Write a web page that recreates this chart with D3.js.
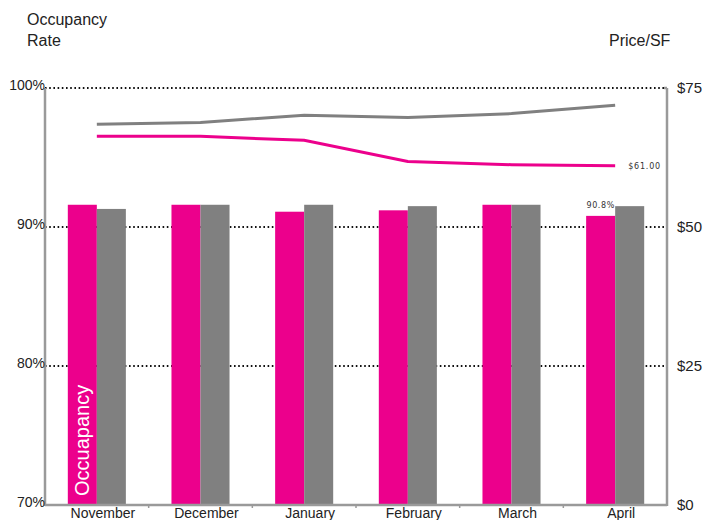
<!DOCTYPE html>
<meta charset="utf-8">
<script src="https://d3js.org/d3.v7.min.js"></script>
<style>
  body { margin: 0; background: #fff; }
  text { font-family: "Liberation Sans", Arial, sans-serif; fill: #222; }
</style>
<body>
<script>
// chart data
var months = ["November", "December", "January", "February", "March", "April"];
var occupancy = [91.6, 91.6, 91.1, 91.2, 91.6, 90.8];        // pink bars
var occupancyComp = [91.3, 91.6, 91.6, 91.5, 91.6, 91.5];    // grey bars
var priceComp = [68.5, 68.8, 70.1, 69.7, 70.4, 71.9];        // grey line
var price = [66.3, 66.3, 65.6, 61.8, 61.2, 61.0];            // pink line
var rateTicks = [70, 80, 90, 100];
var priceTicks = [0, 25, 50, 75];

var pink = "#ec008c", grey = "#808080", axisGrey = "#9a9a9a";

var W = 706, H = 520;
var plotLeft = 45, plotRight = 667, plotTop = 88, plotBottom = 505;

var svg = d3.select("body").append("svg")
  .attr("width", W).attr("height", H);

var x = d3.scaleBand().domain(months).range([plotLeft, plotRight])
  .paddingInner(0.44).paddingOuter(0.22);
var yRate = d3.scaleLinear().domain([70, 100]).range([plotBottom, plotTop]);
var yPrice = d3.scaleLinear().domain([0, 75]).range([plotBottom, plotTop]);
var half = x.bandwidth() / 2;

// dotted gridlines
svg.append("g").selectAll("line")
  .data(rateTicks.filter(function(d) { return d > 70; }))
  .enter().append("line")
    .attr("x1", plotLeft).attr("x2", plotRight)
    .attr("y1", function(d) { return yRate(d); })
    .attr("y2", function(d) { return yRate(d); })
    .style("stroke", "#111")
    .style("stroke-width", 2)
    .style("stroke-dasharray", "1.6,2.6");

// bars
svg.append("g").selectAll("rect")
  .data(occupancy)
  .enter().append("rect")
    .attr("x", function(d, i) { return x(months[i]); })
    .attr("y", function(d) { return yRate(d); })
    .attr("width", half)
    .attr("height", function(d) { return plotBottom - yRate(d); })
    .style("fill", pink);

svg.append("g").selectAll("rect")
  .data(occupancyComp)
  .enter().append("rect")
    .attr("x", function(d, i) { return x(months[i]) + half; })
    .attr("y", function(d) { return yRate(d); })
    .attr("width", half)
    .attr("height", function(d) { return plotBottom - yRate(d); })
    .style("fill", grey);

// lines
var line = d3.line()
  .x(function(d, i) { return x(months[i]) + half; })
  .y(function(d) { return yPrice(d); });

svg.append("path").datum(priceComp)
  .attr("d", line)
  .style("fill", "none").style("stroke", grey).style("stroke-width", 3);

svg.append("path").datum(price)
  .attr("d", line)
  .style("fill", "none").style("stroke", pink).style("stroke-width", 3);

// axis lines
svg.append("line").attr("x1", plotLeft).attr("x2", plotLeft).attr("y1", plotTop).attr("y2", plotBottom + 1)
  .style("stroke", axisGrey).style("stroke-width", 2.5);
svg.append("line").attr("x1", plotRight).attr("x2", plotRight).attr("y1", plotTop).attr("y2", plotBottom + 1)
  .style("stroke", axisGrey).style("stroke-width", 2.5);
svg.append("line").attr("x1", plotLeft).attr("x2", plotRight).attr("y1", plotBottom).attr("y2", plotBottom)
  .style("stroke", axisGrey).style("stroke-width", 2.5);

// small ticks between categories
svg.append("g").selectAll("line")
  .data(months.slice(1))
  .enter().append("line")
    .attr("x1", function(d) { return x(d) - x.step() * 0.22; })
    .attr("x2", function(d) { return x(d) - x.step() * 0.22; })
    .attr("y1", plotBottom).attr("y2", plotBottom + 3)
    .style("stroke", axisGrey).style("stroke-width", 1.5);

// left tick labels
svg.append("g").selectAll("text")
  .data(rateTicks)
  .enter().append("text")
    .attr("x", plotLeft)
    .attr("y", function(d) { return yRate(d) + 2; })
    .attr("text-anchor", "end")
    .style("font-size", "14px")
    .text(function(d) { return d + "%"; });

// right tick labels
svg.append("g").selectAll("text")
  .data(priceTicks)
  .enter().append("text")
    .attr("x", plotRight + 10)
    .attr("y", function(d) { return yPrice(d) + 5; })
    .style("font-size", "15px")
    .text(function(d) { return "$" + d; });

svg.append("line").attr("x1", plotRight - 3).attr("x2", plotRight).attr("y1", plotTop).attr("y2", plotTop)
  .style("stroke", axisGrey).style("stroke-width", 2.5);

// category labels
svg.append("g").selectAll("text")
  .data(months)
  .enter().append("text")
    .attr("x", function(d) { return x(d) + half + 6; })
    .attr("y", plotBottom + 13)
    .attr("text-anchor", "middle")
    .style("font-size", "14px")
    .text(function(d) { return d; });

// axis titles
svg.append("text").attr("x", 27).attr("y", 25).style("font-size", "16px").text("Occupancy");
svg.append("text").attr("x", 27).attr("y", 46).style("font-size", "16px").text("Rate");
svg.append("text").attr("x", 609).attr("y", 46).style("font-size", "16px").text("Price/SF");

// data labels
var last = months.length - 1;
svg.append("text")
  .attr("x", x(months[last]) + half + 13)
  .attr("y", yPrice(price[last]) + 3)
  .style("font-family", "DejaVu Sans, sans-serif")
  .style("font-size", "8px")
  .style("letter-spacing", "0.8px")
  .style("fill", "#333")
  .text("$" + price[last].toFixed(2));

svg.append("text")
  .attr("x", x(months[last]) + half / 2)
  .attr("y", yRate(occupancy[last]) - 8)
  .attr("text-anchor", "middle")
  .style("font-family", "DejaVu Sans, sans-serif")
  .style("font-size", "8px")
  .style("letter-spacing", "0.6px")
  .style("fill", "#333")
  .text(occupancy[last] + "%");

// series name inside first bar
svg.append("text")
  .attr("transform", "translate(" + (x(months[0]) + half / 2 + 7) + "," + (plotBottom - 9) + ") rotate(-90)")
  .style("font-size", "20px")
  .style("fill", "#fff")
  .text("Occuapancy");
</script>
</body>
